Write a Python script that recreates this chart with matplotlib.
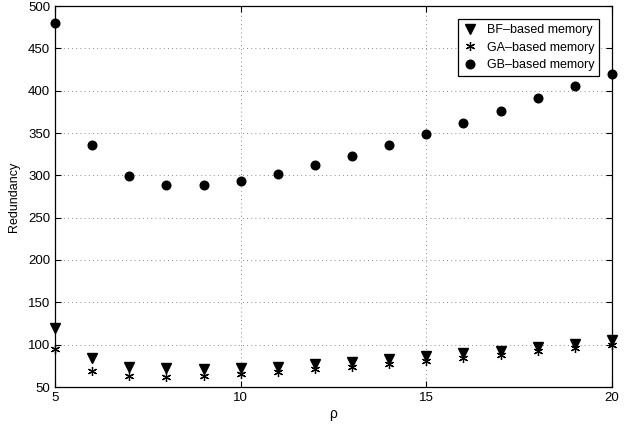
import numpy as np
import matplotlib
matplotlib.use('Agg')
import matplotlib.pyplot as plt

plt.rcParams['font.family'] = ['Liberation Sans', 'DejaVu Sans']

# Data
rho = [5, 6, 7, 8, 9, 10, 11, 12, 13, 14, 15, 16, 17, 18, 19, 20]
bf_memory = [120, 84, 74, 72, 71, 72, 74, 77, 80, 83, 87, 90, 93, 97, 101, 105]
ga_memory = [95, 69, 63, 62, 63, 65, 68, 71, 74, 77, 81, 84, 88, 92, 96, 100]
gb_memory = [480, 336, 299, 288, 288, 293, 301, 312, 323, 336, 349, 362, 376, 391, 405, 420]

fig = plt.figure(figsize=(6.27, 4.25), dpi=100)
ax = fig.add_axes([55 / 627, 1 - 387 / 425, (612 - 55) / 627, (387 - 6) / 425])

ax.plot(rho, bf_memory, linestyle='none', marker='v', color='k', markersize=6.5,
        label='BF\u2013based memory', clip_on=False, zorder=3)
# MATLAB-like asterisk: thin arms
ax.plot(rho, ga_memory, linestyle='none', marker=(6, 2, 0), color='k', markersize=6.5,
        markeredgewidth=0.9,
        label='GA\u2013based memory', clip_on=False, zorder=3)
ax.plot(rho, gb_memory, linestyle='none', marker='o', color='k', markersize=6.2,
        label='GB\u2013based memory', clip_on=False, zorder=3)

ax.set_xlim(5, 20)
ax.set_ylim(50, 500)
ax.set_xticks([5, 10, 15, 20])
ax.set_yticks(np.arange(50, 501, 50))
ax.grid(True, linestyle=(0, (1, 4)), color='k', linewidth=0.6, alpha=0.6)
ax.tick_params(direction='in', length=4, labelsize=9.5, top=True, right=True)
for s in ax.spines.values():
    s.set_linewidth(0.9)

ax.set_xlabel('\u03c1', fontsize=10, labelpad=2)
ax.set_ylabel('Redundancy', fontsize=9, labelpad=6)

leg = ax.legend(loc='upper right', bbox_to_anchor=(0.988, 0.982), fancybox=False,
                edgecolor='k', framealpha=1, fontsize=9, handletextpad=0.7,
                borderpad=0.4, labelspacing=0.45, handlelength=1.2)
leg.get_frame().set_linewidth(0.9)

fig.savefig('out.png', dpi=100)
